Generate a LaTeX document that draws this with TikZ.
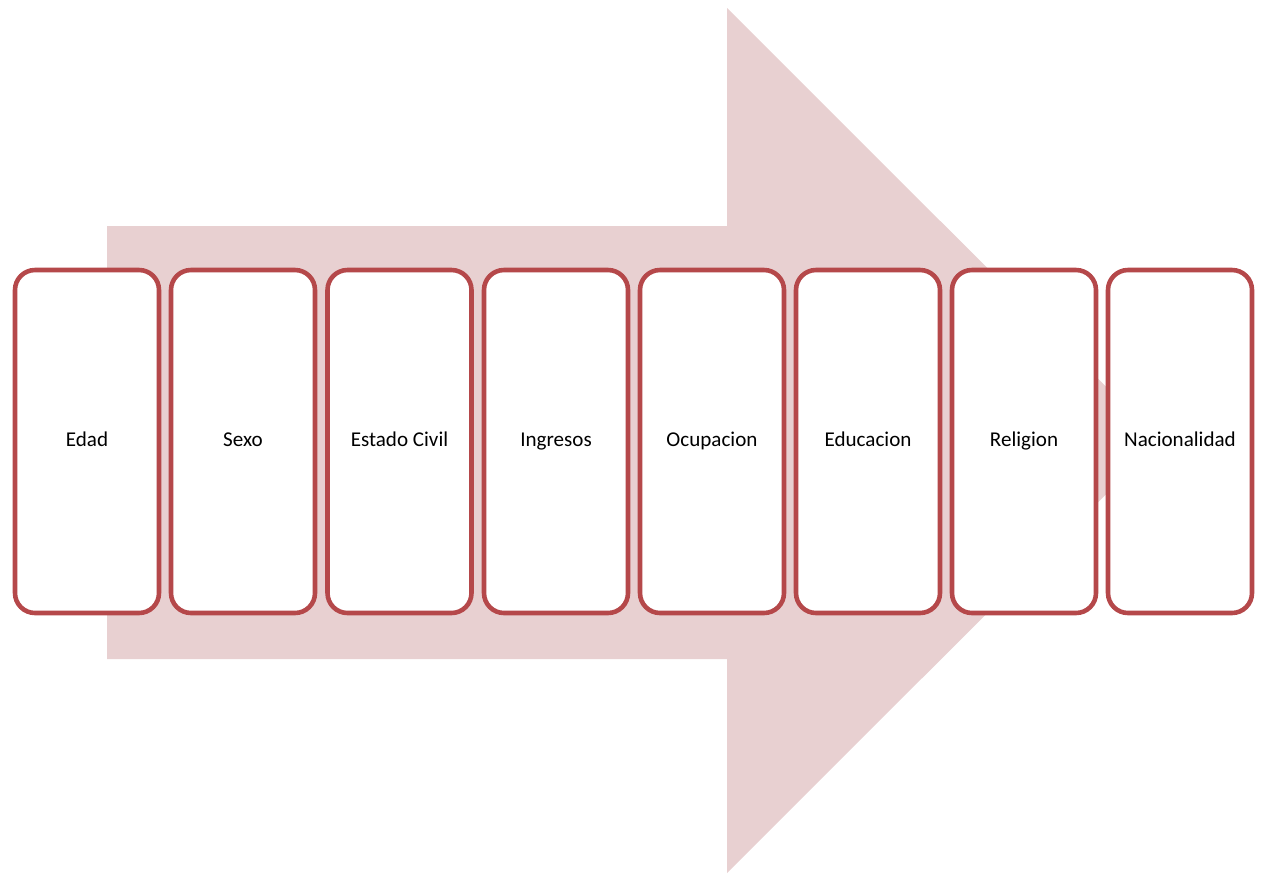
\documentclass[tikz,border=0pt]{standalone}
\usepackage{fontspec}
\setmainfont{Carlito}
\usetikzlibrary{positioning}
\definecolor{ArrowPink}{RGB}{232,208,209}
\definecolor{BoxRed}{RGB}{181,72,74}

\begin{document}
\begin{tikzpicture}[x=0.02cm,y=-0.02cm, every node/.style={font=\fontsize{12}{14}\selectfont, align=center},
  item/.style={draw=BoxRed, line width=2.6pt, rounded corners=0.4cm, fill=white,
    minimum width=144*0.02cm, minimum height=343*0.02cm, inner sep=0pt,
    text height=1.6ex, text depth=0.5ex}]
  \useasboundingbox (0,0) rectangle (1261,873);
  % big arrow behind
  \fill[ArrowPink] (107,226) -- (727,226) -- (727,8) -- (1160,440.5)
    -- (727,873) -- (727,659) -- (107,659) -- cycle;
  \node[item] (edad) at (87,441.5) {Edad};
  \node[item] (sexo) at (243,441.5) {Sexo};
  \node[item] (civil) at (399.5,441.5) {Estado Civil};
  \node[item] (ingresos) at (556,441.5) {Ingresos};
  \node[item] (ocupacion) at (712,441.5) {Ocupacion};
  \node[item] (educacion) at (868,441.5) {Educacion};
  \node[item] (religion) at (1024,441.5) {Religion};
  \node[item] (nacion) at (1180,441.5) {Nacionalidad};
\end{tikzpicture}
\end{document}
